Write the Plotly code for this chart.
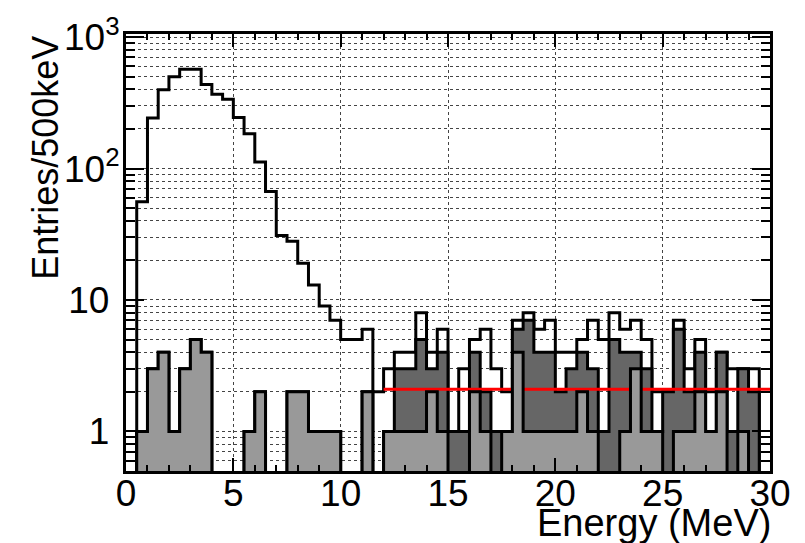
import numpy as np
import plotly.graph_objects as go

# ---------------- data ----------------
bin_edges = np.arange(0.0, 30.0 + 0.25, 0.5)          # 60 bins of 500 keV

total_counts = [0, 56, 242, 398, 500, 570, 570, 436, 367, 337,
                245, 184, 112, 67, 31, 28, 19, 13, 9, 7,
                5, 5, 6, 2, 3, 4, 4, 8, 4, 6,
                1, 3, 5, 6, 3, 2, 7, 8, 6, 7,
                4, 4, 5, 7, 5, 8, 6, 7, 5, 2,
                2, 7, 3, 5, 2, 4, 3, 3, 3, 0]

dark_counts = [0, 1, 3, 4, 1, 3, 5, 4, 0, 0,
               0, 1, 2, 0, 0, 2, 2, 1, 1, 1,
               0, 0, 2, 0, 1, 3, 3, 5, 3, 4,
               1, 1, 4, 2, 1, 1, 6, 7, 4, 4,
               2, 3, 4, 3, 1, 5, 4, 4, 3, 1,
               2, 6, 2, 4, 1, 4, 1, 3, 2, 0]

light_counts = [0, 1, 3, 4, 1, 3, 5, 4, 0, 0,
                0, 1, 2, 0, 0, 2, 2, 1, 1, 1,
                0, 0, 2, 0, 1, 1, 1, 1, 2, 1,
                0, 0, 2, 1, 0, 1, 4, 1, 1, 1,
                1, 1, 2, 1, 0, 0, 1, 3, 1, 1,
                0, 1, 1, 2, 1, 2, 0, 1, 0, 0]

fit_level = 2.09
fit_range = [12.0, 30.0]

x_major = [0, 5, 10, 15, 20, 25, 30]
x_minor = [v for v in range(1, 30) if v % 5 != 0]
y_major = [1, 10, 100, 1000]
y_major_text = ["1\u00a0", "10\u00a0", "10<sup>2</sup>", "10<sup>3</sup>"]
y_minor = [m * 10 ** d for d in (-1, 0, 1, 2) for m in range(2, 10) if m * 10 ** d > 0.5]

FLOOR = 1e-3  # below visible range; used to close the step shapes


def step_path(vals):
    xs, ys = [bin_edges[0]], [FLOOR]
    for i, v in enumerate(vals):
        v = v if v > 0 else FLOOR
        xs += [bin_edges[i], bin_edges[i + 1]]
        ys += [v, v]
    xs.append(bin_edges[-1])
    ys.append(FLOOR)
    return xs, ys


fig = go.Figure()

# total (hollow outline)
xs, ys = step_path(total_counts)
fig.add_trace(go.Scatter(x=xs, y=ys, mode="lines",
                         line=dict(color="black", width=3),
                         hoverinfo="skip", showlegend=False))

# dark gray component
xs, ys = step_path(dark_counts)
fig.add_trace(go.Scatter(x=xs, y=ys, mode="lines", fill="toself",
                         fillcolor="#666666",
                         line=dict(color="black", width=3),
                         hoverinfo="skip", showlegend=False))

# constant fit
fig.add_trace(go.Scatter(x=fit_range, y=[fit_level, fit_level], mode="lines",
                         line=dict(color="#ff0000", width=3),
                         hoverinfo="skip", showlegend=False))

# light gray component
xs, ys = step_path(light_counts)
fig.add_trace(go.Scatter(x=xs, y=ys, mode="lines", fill="toself",
                         fillcolor="#999999",
                         line=dict(color="black", width=3),
                         hoverinfo="skip", showlegend=False))

FONT = "Liberation Sans, Arial, Helvetica, sans-serif"
grid = dict(showgrid=True, gridcolor="#444444", griddash="dot", gridwidth=1)

fig.update_layout(
    width=805, height=543,
    margin=dict(l=126, r=35, t=24, b=72),
    paper_bgcolor="white", plot_bgcolor="white",
    font=dict(family=FONT, color="black"),
    xaxis=dict(range=[0, 30], tickmode="array", tickvals=x_major,
               ticks="inside", ticklen=13, tickwidth=2, tickcolor="black",
               showline=True, linecolor="black", linewidth=3, mirror="allticks",
               zeroline=False, tickfont=dict(size=37, family=FONT),
               ticklabelstandoff=-12, ticklabeloverflow="allow",
               minor=dict(tickmode="array", tickvals=x_minor, ticks="inside",
                          ticklen=6, tickwidth=2, tickcolor="black", showgrid=False),
               **grid),
    yaxis=dict(type="log", range=[np.log10(0.5), np.log10(1056)],
               tickmode="array", tickvals=y_major, ticktext=y_major_text,
               ticks="inside", ticklen=18, tickwidth=2, tickcolor="black",
               showline=True, linecolor="black", linewidth=3, mirror="allticks",
               zeroline=False, tickfont=dict(size=37, family=FONT),
               ticklabelstandoff=-4, ticklabeloverflow="allow",
               minor=dict(tickmode="array", tickvals=y_minor, ticks="inside",
                          ticklen=9, tickwidth=2, tickcolor="black",
                          showgrid=True, gridcolor="#444444", griddash="dot", gridwidth=1),
               **grid),
    annotations=[
        dict(text="Energy (MeV)", xref="paper", yref="paper",
             x=1.0, y=-0.163, xanchor="right", yanchor="bottom", xshift=3, yshift=-4,
             showarrow=False, font=dict(size=38, family=FONT)),
        dict(text="Entries/500keV", xref="paper", yref="paper",
             x=-0.126, y=1.0, xanchor="center", yanchor="top", textangle=-90,
             showarrow=False, font=dict(size=36, family=FONT)),
    ],
)

fig.write_html("out.html")
